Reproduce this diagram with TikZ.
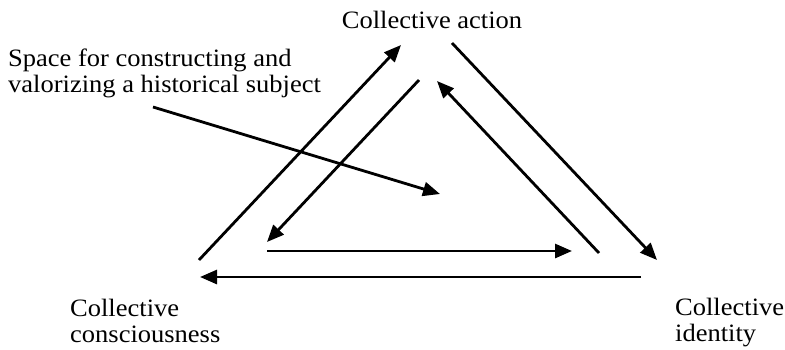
\documentclass[tikz,border=0pt]{standalone}
\usepackage{fontspec}
\setmainfont{Liberation Serif}[FakeStretch=1.06]
\usetikzlibrary{arrows.meta}
\begin{document}
\begin{tikzpicture}[x=1pt,y=-1pt,
  flow/.style={line width=2.8pt,-{Triangle[length=17pt,width=14pt]}},
  lbl/.style={inner sep=0pt,align=left,font=\fontsize{25}{25.5}\selectfont}]
\useasboundingbox (0,0) rectangle (785,349);
% labels (base anchor sits on the last line of each label)
\node[lbl,anchor=base] (act) at (432,28) {Collective action};
\node[lbl,anchor=base west] (space) at (8,92) {Space for constructing and\\valorizing a historical subject};
\node[lbl,anchor=base west] (cons) at (70,342) {Collective\\consciousness};
\node[lbl,anchor=base west] (ident) at (675,341) {Collective\\identity};
% outer triangle of arrows
\coordinate (o1s) at (199,260); \coordinate (o1e) at (401,45);
\coordinate (o2s) at (452,43);  \coordinate (o2e) at (657,260);
\coordinate (o3s) at (641,277); \coordinate (o3e) at (200,277);
% inner triangle of arrows
\coordinate (i1s) at (419,80);  \coordinate (i1e) at (267,242);
\coordinate (i2s) at (599,253); \coordinate (i2e) at (437,81);
\coordinate (i3s) at (267,251); \coordinate (i3e) at (572,251);
% pointer into the inner space
\coordinate (ps) at (153,107);  \coordinate (pe) at (440,194);
\draw[flow] (o1s) -- (o1e);
\draw[flow] (o2s) -- (o2e);
\draw[flow] (o3s) -- (o3e);
\draw[flow] (i1s) -- (i1e);
\draw[flow] (i2s) -- (i2e);
\draw[flow] (i3s) -- (i3e);
\draw[flow] (ps) -- (pe);
\end{tikzpicture}
\end{document}
